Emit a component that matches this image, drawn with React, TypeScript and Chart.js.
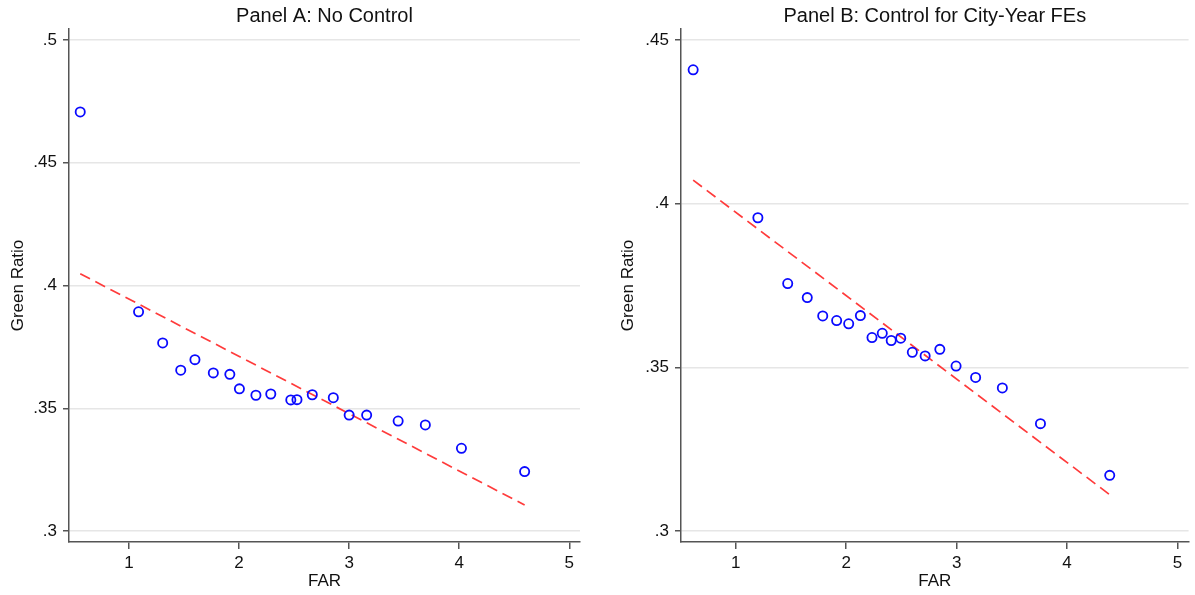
import React, { useEffect, useRef } from "react";
import { Chart, registerables } from "chart.js";

Chart.register(...registerables);

// ---- Data ----
const farA = [0.557, 1.087, 1.306, 1.47, 1.599, 1.766, 1.916, 2.003, 2.153, 2.288, 2.47, 2.526, 2.665, 2.856, 3.0, 3.159, 3.445, 3.692, 4.02, 4.594];
const ratioA = [0.4707, 0.3893, 0.3766, 0.3655, 0.3698, 0.3644, 0.3638, 0.3579, 0.3553, 0.3558, 0.3534, 0.3535, 0.3555, 0.3543, 0.3472, 0.3472, 0.3448, 0.3432, 0.3337, 0.3242];
const fitFarA = [0.557, 4.594];
const fitRatioA = [0.4048, 0.3106];

const farB = [0.615, 1.201, 1.471, 1.648, 1.788, 1.914, 2.023, 2.129, 2.234, 2.327, 2.408, 2.494, 2.599, 2.715, 2.848, 2.995, 3.172, 3.414, 3.759, 4.386];
const ratioB = [0.4409, 0.3957, 0.3756, 0.3713, 0.3657, 0.3643, 0.3633, 0.3658, 0.3591, 0.3604, 0.3582, 0.3589, 0.3546, 0.3535, 0.3555, 0.3504, 0.3469, 0.3437, 0.3328, 0.317];
const fitFarB = [0.615, 4.386];
const fitRatioB = [0.4072, 0.3111];

const xTicks = [1, 2, 3, 4, 5];
const yTicksA = [0.3, 0.35, 0.4, 0.45, 0.5];
const yTicksB = [0.3, 0.35, 0.4, 0.45];

const titleA = "Panel A: No Control";
const titleB = "Panel B: Control for City-Year FEs";
const xLabel = "FAR";
const yLabel = "Green Ratio";

const FONT = "'Liberation Sans', Arial, Helvetica, sans-serif";

type PanelProps = {
  left: number;
  width: number;
  title: string;
  far: number[];
  ratio: number[];
  fitFar: number[];
  fitRatio: number[];
  yTicks: number[];
  xMin: number;
  xMax: number;
  yMin: number;
  yMax: number;
  yAxisWidth: number;
  yTitlePad: number;
  rightPad: number;
};

function fmtY(v: number): string {
  const s = String(Math.round(v * 1000) / 1000);
  return s.replace(/^0\./, ".");
}

function Panel(p: PanelProps) {
  const ref = useRef<HTMLCanvasElement | null>(null);
  useEffect(() => {
    if (!ref.current) return;
    const points = p.far.map((x, i) => ({ x, y: p.ratio[i] }));
    const fit = p.fitFar.map((x, i) => ({ x, y: p.fitRatio[i] }));
    const tickFont = { family: FONT, size: 17 };
    const chart = new Chart(ref.current, {
      type: "scatter",
      data: {
        datasets: [
          {
            data: points,
            showLine: false,
            pointRadius: 4.6,
            pointBorderWidth: 1.8,
            pointBackgroundColor: "rgba(0,0,0,0)",
            pointBorderColor: "#0a0aff",
            order: 1,
          },
          {
            data: fit,
            showLine: true,
            pointRadius: 0,
            borderColor: "#ff3b3b",
            borderWidth: 1.7,
            borderDash: [11, 6],
            order: 2,
          },
        ],
      },
      options: {
        responsive: false,
        animation: false,
        events: [],
        layout: { padding: { left: 0, right: p.rightPad, top: 0, bottom: 0 } },
        plugins: {
          legend: { display: false },
          tooltip: { enabled: false },
          title: {
            display: true,
            text: p.title,
            fullSize: false,
            color: "#111",
            font: { family: FONT, size: 20, weight: "normal" },
            padding: { top: 4.5, bottom: 0.5 },
          },
        },
        scales: {
          x: {
            type: "linear",
            min: p.xMin,
            max: p.xMax,
            afterBuildTicks: (s: any) => {
              s.ticks = xTicks.map((v) => ({ value: v }));
            },
            afterFit: (s: any) => {
              s.height = 53;
            },
            ticks: {
              font: tickFont,
              color: "#111",
              padding: 4,
              maxRotation: 0,
              autoSkip: false,
              callback: (v: any) => String(v),
            },
            grid: {
              display: true,
              drawOnChartArea: false,
              drawTicks: true,
              tickLength: 7,
              tickColor: "#555",
              lineWidth: 1.5,
            },
            border: { display: true, color: "#555", width: 1.5 },
            title: {
              display: true,
              text: xLabel,
              color: "#111",
              font: tickFont,
              padding: { top: 0, bottom: 3 },
            },
          },
          y: {
            type: "linear",
            min: p.yMin,
            max: p.yMax,
            afterBuildTicks: (s: any) => {
              s.ticks = p.yTicks.map((v) => ({ value: v }));
            },
            afterFit: (s: any) => {
              s.width = p.yAxisWidth;
            },
            ticks: {
              font: tickFont,
              color: "#111",
              padding: 6,
              autoSkip: false,
              callback: (v: any) => fmtY(Number(v)),
            },
            grid: {
              display: true,
              drawOnChartArea: true,
              drawTicks: true,
              tickLength: 6,
              color: "#e6e6e6",
              tickColor: "#555",
              lineWidth: 1.5,
            },
            border: { display: true, color: "#555", width: 1.5 },
            title: {
              display: true,
              text: yLabel,
              color: "#111",
              font: tickFont,
              padding: { top: p.yTitlePad, bottom: 0 },
            },
          },
        },
      } as any,
    });
    return () => chart.destroy();
  }, []);
  return (
    <canvas
      ref={ref}
      width={p.width}
      height={595}
      style={{ position: "absolute", left: p.left, top: 0, width: p.width, height: 595 }}
    />
  );
}

export default function App() {
  return (
    <div style={{ position: "absolute", left: 0, top: 0, width: 1195, height: 595, background: "#fff" }}>
      <Panel
        left={0}
        width={595}
        title={titleA}
        far={farA}
        ratio={ratioA}
        fitFar={fitFarA}
        fitRatio={fitRatioA}
        yTicks={yTicksA}
        xMin={0.455}
        xMax={5.097}
        yMin={0.29552}
        yMax={0.50448}
        yAxisWidth={69}
        yTitlePad={8}
        rightPad={15}
      />
      <Panel
        left={595}
        width={600}
        title={titleB}
        far={farB}
        ratio={ratioB}
        fitFar={fitFarB}
        fitRatio={fitRatioB}
        yTicks={yTicksB}
        xMin={0.505}
        xMax={5.1}
        yMin={0.29664}
        yMax={0.45336}
        yAxisWidth={86}
        yTitlePad={23}
        rightPad={3}
      />
    </div>
  );
}
